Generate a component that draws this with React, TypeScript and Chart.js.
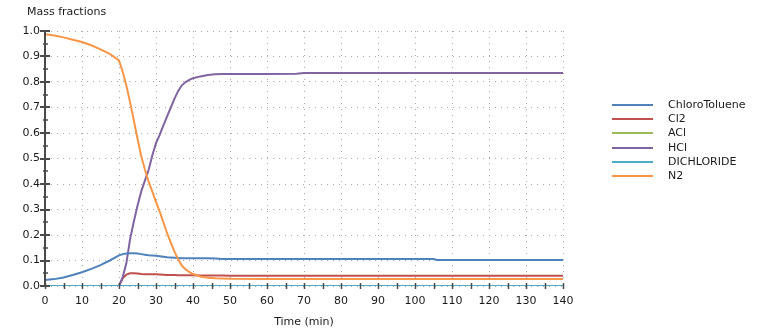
import React, { useEffect, useRef } from "react";
import { Chart, registerables } from "chart.js";
Chart.register(...registerables);

const times = [0, 2.5, 5, 7.5, 10, 12.5, 15, 17.5, 20, 21, 22, 23, 24, 25, 26, 27, 28, 29, 30, 31, 32, 33, 34, 35, 36, 37, 38, 39, 40, 42, 44, 46, 48, 50, 60, 68, 70, 80, 90, 100, 105, 106, 110, 120, 130, 140];

const chloroToluene = [0.024, 0.027, 0.033, 0.043, 0.054, 0.067, 0.082, 0.1, 0.12, 0.125, 0.127, 0.128, 0.128, 0.127, 0.125, 0.123, 0.121, 0.12, 0.119, 0.117, 0.115, 0.113, 0.112, 0.111, 0.11, 0.109, 0.109, 0.109, 0.109, 0.109, 0.109, 0.108, 0.106, 0.106, 0.106, 0.106, 0.106, 0.106, 0.106, 0.106, 0.106, 0.102, 0.102, 0.102, 0.102, 0.102];

const cl2 = [0, 0, 0, 0, 0, 0, 0, 0, 0, 0.03, 0.045, 0.05, 0.05, 0.049, 0.047, 0.046, 0.046, 0.046, 0.046, 0.045, 0.044, 0.043, 0.043, 0.043, 0.042, 0.042, 0.042, 0.042, 0.042, 0.041, 0.041, 0.041, 0.041, 0.04, 0.04, 0.04, 0.04, 0.04, 0.04, 0.04, 0.04, 0.04, 0.04, 0.04, 0.04, 0.04];

const acl = [0, 0, 0, 0, 0, 0, 0, 0, 0, 0, 0, 0, 0, 0, 0, 0, 0, 0, 0, 0, 0, 0, 0, 0, 0, 0, 0, 0, 0, 0, 0, 0, 0, 0, 0, 0, 0, 0, 0, 0, 0, 0, 0, 0, 0, 0];

const hcl = [0, 0, 0, 0, 0, 0, 0, 0, 0, 0.035, 0.09, 0.185, 0.252, 0.315, 0.37, 0.413, 0.455, 0.512, 0.56, 0.593, 0.63, 0.665, 0.7, 0.735, 0.765, 0.787, 0.8, 0.808, 0.815, 0.822, 0.827, 0.83, 0.831, 0.831, 0.831, 0.832, 0.835, 0.835, 0.835, 0.835, 0.835, 0.835, 0.835, 0.835, 0.835, 0.835];

const dichloride = [0, 0, 0, 0, 0, 0, 0, 0, 0, 0, 0, 0, 0, 0, 0, 0, 0, 0, 0, 0, 0, 0, 0, 0, 0, 0, 0, 0, 0, 0, 0, 0, 0, 0, 0, 0, 0, 0, 0, 0, 0, 0, 0, 0, 0, 0];

const n2 = [0.987, 0.982, 0.975, 0.966, 0.957, 0.944, 0.928, 0.91, 0.885, 0.84, 0.785, 0.72, 0.65, 0.578, 0.51, 0.457, 0.41, 0.37, 0.33, 0.292, 0.25, 0.207, 0.17, 0.135, 0.105, 0.08, 0.065, 0.055, 0.047, 0.037, 0.032, 0.03, 0.029, 0.028, 0.027, 0.027, 0.027, 0.027, 0.027, 0.027, 0.027, 0.027, 0.027, 0.027, 0.027, 0.027];

const seriesNames = ["ChloroToluene", "Cl2", "ACl", "HCl", "DICHLORIDE", "N2"];
const seriesColors = ["#4F81BD", "#C0504D", "#9BBB59", "#8064A2", "#4BACC6", "#F79646"];
const seriesValues = [chloroToluene, cl2, acl, hcl, dichloride, n2];
const drawOrder = [2, 3, 4, 2, 0, 1];

const yTitle = "Mass fractions";
const xTitle = "Time (min)";
const FONT = "'DejaVu Sans', sans-serif";

const decorPlugin = {
  id: "decor",
  afterDraw(chart: any) {
    const { ctx, chartArea, scales } = chart;
    const xs = scales.x;
    const ys = scales.y;
    ctx.save();
    // left axis
    ctx.strokeStyle = "#4a4a4a";
    ctx.lineWidth = 2;
    ctx.beginPath();
    ctx.moveTo(chartArea.left, chartArea.top - 1);
    ctx.lineTo(chartArea.left, chartArea.bottom + 1);
    ctx.stroke();
    // y ticks
    for (let i = 0; i <= 20; i++) {
      const v = i * 0.05;
      const y = Math.round(ys.getPixelForValue(v));
      const major = i % 2 === 0;
      ctx.lineWidth = major ? 2 : 1.5;
      ctx.beginPath();
      ctx.moveTo(chartArea.left - (major ? 5 : 2), y);
      ctx.lineTo(chartArea.left + (major ? 5 : 3), y);
      ctx.stroke();
    }
    // x ticks
    ctx.lineWidth = 1.5;
    for (let i = 0; i <= 28; i++) {
      const x = Math.round(xs.getPixelForValue(i * 5)) + 0.5;
      ctx.beginPath();
      ctx.moveTo(x, chartArea.bottom - 3);
      ctx.lineTo(x, chartArea.bottom + 3);
      ctx.stroke();
    }
    // titles
    ctx.fillStyle = "#1a1a1a";
    ctx.font = `11px ${FONT}`;
    ctx.textBaseline = "middle";
    ctx.textAlign = "left";
    ctx.fillText(yTitle, 27, 12);
    ctx.textAlign = "center";
    ctx.fillText(xTitle, (chartArea.left + chartArea.right) / 2, 322);
    // legend
    ctx.textAlign = "left";
    for (let i = 0; i < seriesNames.length; i++) {
      const y = Math.round(105 + i * 14.2);
      ctx.strokeStyle = seriesColors[i];
      ctx.lineWidth = 2;
      ctx.beginPath();
      ctx.moveTo(612, y);
      ctx.lineTo(653, y);
      ctx.stroke();
      ctx.fillStyle = "#1a1a1a";
      ctx.fillText(seriesNames[i], 668, y);
    }
    ctx.restore();
  },
};

export default function App() {
  const ref = useRef<HTMLCanvasElement | null>(null);
  useEffect(() => {
    if (!ref.current) return;
    const datasets = seriesNames.map((name, i) => ({
      label: name,
      data: times.map((t, j) => ({ x: t, y: seriesValues[i][j] })),
      borderColor: seriesColors[i],
      backgroundColor: seriesColors[i],
      borderWidth: 2,
      pointRadius: 0,
      tension: 0,
      fill: false,
      order: drawOrder[i],
    }));
    const chart = new Chart(ref.current, {
      type: "line",
      data: { datasets },
      plugins: [decorPlugin],
      options: {
        animation: false,
        responsive: false,
        maintainAspectRatio: false,
        layout: { padding: { left: 0, top: 31, right: 197, bottom: 0 } },
        plugins: { legend: { display: false }, tooltip: { enabled: false }, title: { display: false } },
        scales: {
          x: {
            type: "linear",
            min: 0,
            max: 140,
            afterFit: (s: any) => { s.height = 46; },
            ticks: { stepSize: 10, color: "#1a1a1a", font: { family: FONT, size: 11 }, padding: 9, maxRotation: 0 },
            grid: { color: "#a8a8a8", lineWidth: 1, drawTicks: false },
            border: { display: false, dash: [1, 5] },
          },
          y: {
            type: "linear",
            min: 0,
            max: 1,
            afterFit: (s: any) => { s.width = 45; },
            ticks: { stepSize: 0.1, color: "#1a1a1a", font: { family: FONT, size: 11 }, padding: 5, callback: (v: any) => Number(v).toFixed(1) },
            grid: { color: "#a8a8a8", lineWidth: 1, drawTicks: false },
            border: { display: false, dash: [1, 5] },
          },
        },
      },
    });
    return () => chart.destroy();
  }, []);
  return (
    <div style={{ position: "absolute", left: 0, top: 0, width: 760, height: 332, background: "#fff" }}>
      <canvas ref={ref} width={760} height={332} style={{ display: "block" }} />
    </div>
  );
}
